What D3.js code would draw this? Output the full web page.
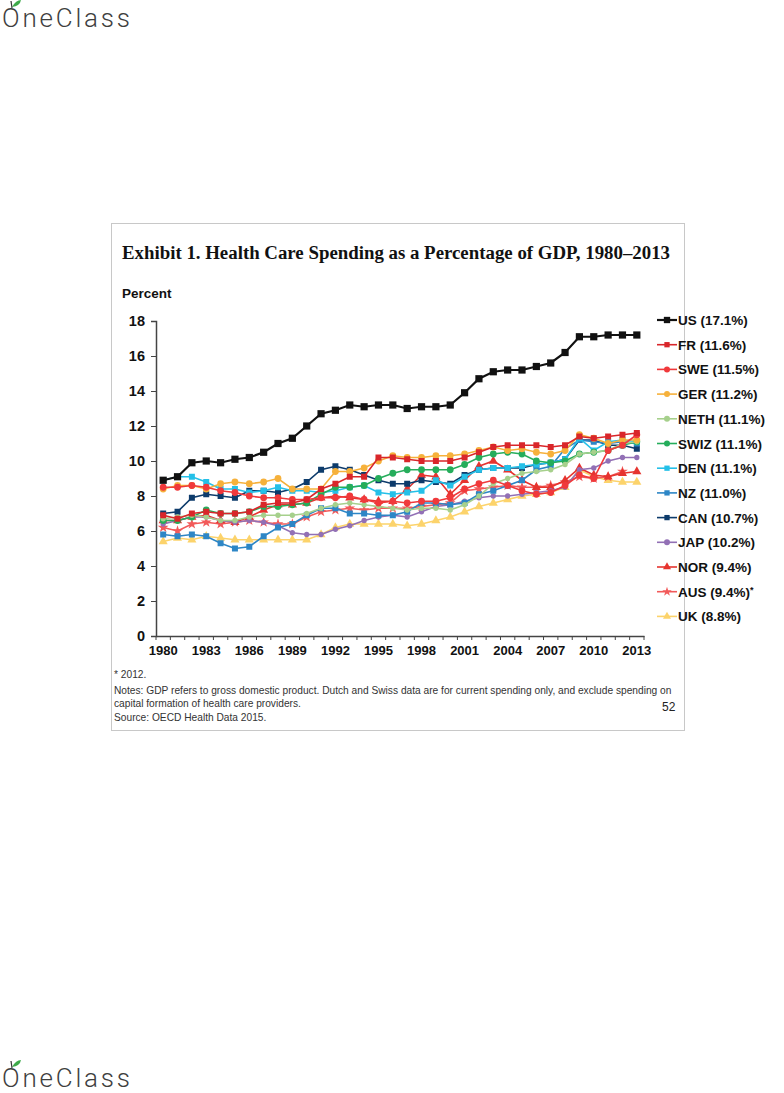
<!doctype html>
<html lang="en">
<head>
<meta charset="utf-8">
<title>Health Care Spending as a Percentage of GDP</title>
<script src="https://cdn.jsdelivr.net/npm/d3@7"></script>
<style>
  body { margin: 0; background: #fff; }
  svg { display: block; }
</style>
</head>
<body>
<script>

// years on the category axis
var years = d3.range(1980, 2014);
var tickYears = [1980, 1983, 1986, 1989, 1992, 1995, 1998, 2001, 2004, 2007, 2010, 2013];
var yTicks = [0, 2, 4, 6, 8, 10, 12, 14, 16, 18];

var names = ["US", "FR", "SWE", "GER", "NETH", "SWIZ", "DEN", "NZ", "CAN", "JAP", "NOR", "AUS", "UK"];
var labels = ["US (17.1%)", "FR (11.6%)", "SWE (11.5%)", "GER (11.2%)", "NETH (11.1%)", "SWIZ (11.1%)",
              "DEN (11.1%)", "NZ (11.0%)", "CAN (10.7%)", "JAP (10.2%)", "NOR (9.4%)", "AUS (9.4%)", "UK (8.8%)"];

// percent of GDP, 1980..2013
var US   = [8.9,9.1,9.9,10.0,9.9,10.1,10.2,10.5,11.0,11.3,12.0,12.7,12.9,13.2,13.1,13.2,13.2,13.0,13.1,13.1,13.2,13.9,14.7,15.1,15.2,15.2,15.4,15.6,16.2,17.1,17.1,17.2,17.2,17.2];
var FR   = [6.9,6.7,7.0,7.1,7.0,7.0,7.1,7.5,7.6,7.6,7.8,8.4,8.7,9.1,9.1,10.2,10.2,10.1,10.0,10.0,10.0,10.2,10.5,10.8,10.9,10.9,10.9,10.8,10.9,11.4,11.3,11.4,11.5,11.6];
var SWE  = [8.5,8.5,8.6,8.5,8.3,8.2,8.0,7.9,7.9,7.8,7.8,7.9,7.9,8.0,7.8,7.6,7.7,7.6,7.7,7.7,7.9,8.4,8.7,8.9,8.6,8.3,8.1,8.2,8.6,9.2,9.0,10.6,10.9,11.5];
var GER  = [8.4,8.6,8.6,8.4,8.7,8.8,8.7,8.8,9.0,8.4,8.4,8.4,9.4,9.4,9.6,10.0,10.3,10.2,10.2,10.3,10.3,10.4,10.6,10.8,10.6,10.7,10.5,10.4,10.6,11.5,11.3,11.0,11.2,11.2];
var NETH = [6.7,6.8,6.9,6.8,6.6,6.6,6.8,6.9,6.9,6.9,7.0,7.3,7.5,7.6,7.5,7.4,7.3,7.2,7.3,7.3,7.2,7.5,8.0,8.7,9.0,9.3,9.4,9.5,9.8,10.4,10.5,10.6,11.0,11.1];
var SWIZ = [6.6,6.6,6.8,7.2,7.0,7.0,7.1,7.4,7.4,7.5,7.6,8.1,8.5,8.5,8.6,9.0,9.3,9.5,9.5,9.5,9.5,9.8,10.2,10.4,10.5,10.4,10.0,9.9,10.0,10.4,10.5,10.6,10.9,11.1];
var DEN  = [8.9,9.1,9.1,8.8,8.4,8.4,8.2,8.3,8.5,8.3,8.3,8.2,8.3,8.5,8.6,8.2,8.1,8.2,8.3,8.9,8.6,9.1,9.5,9.6,9.6,9.7,9.8,9.9,10.1,11.3,10.6,11.1,11.2,11.1];
var NZ   = [5.8,5.7,5.8,5.7,5.3,5.0,5.1,5.7,6.2,6.4,6.9,7.3,7.3,7.0,7.0,6.9,6.9,7.1,7.6,7.6,7.5,7.6,8.1,8.3,8.6,8.9,9.5,9.7,10.7,11.2,11.1,11.0,11.1,11.0];
var CAN  = [7.0,7.1,7.9,8.1,8.0,7.9,8.3,8.3,8.2,8.4,8.8,9.5,9.7,9.5,9.2,8.9,8.7,8.7,8.9,8.8,8.7,9.2,9.5,9.6,9.6,9.6,9.8,9.9,10.1,11.2,11.2,10.9,10.9,10.7];
var JAP  = [6.4,6.6,6.8,6.8,6.6,6.5,6.6,6.5,6.3,5.9,5.8,5.8,6.1,6.3,6.6,6.8,6.9,6.8,7.1,7.4,7.5,7.7,7.9,8.0,8.0,8.1,8.2,8.3,8.5,9.5,9.6,10.0,10.2,10.2];
var NOR  = [6.6,6.6,6.8,6.9,6.6,6.5,6.8,7.2,7.5,7.5,7.6,7.9,8.0,7.9,7.8,7.7,7.7,8.4,9.2,9.1,8.1,8.9,9.7,10.0,9.5,8.9,8.5,8.5,8.9,9.6,9.2,9.1,9.3,9.4];
var AUS  = [6.2,6.0,6.4,6.5,6.4,6.5,6.6,6.5,6.4,6.4,6.8,7.1,7.2,7.3,7.2,7.3,7.3,7.3,7.4,7.5,7.6,8.3,8.4,8.5,8.6,8.5,8.5,8.6,8.8,9.1,9.0,9.1,9.4,null];
var UK   = [5.4,5.6,5.5,5.7,5.6,5.5,5.5,5.5,5.5,5.5,5.5,5.8,6.2,6.4,6.4,6.4,6.4,6.3,6.4,6.6,6.8,7.1,7.4,7.6,7.8,8.0,8.1,8.2,8.5,9.5,9.1,8.9,8.8,8.8];

var values = [US, FR, SWE, GER, NETH, SWIZ, DEN, NZ, CAN, JAP, NOR, AUS, UK];
var colors = ["#111111", "#d9262a", "#f0393b", "#f6b13b", "#a6d08c", "#25ad5b", "#25c0e8",
              "#2d86c6", "#0d3b6b", "#9270b5", "#e6342f", "#f25a5a", "#fcd36b"];
var shapes = [d3.symbolSquare, d3.symbolSquare, d3.symbolCircle, d3.symbolCircle, d3.symbolCircle, d3.symbolCircle,
              d3.symbolSquare, d3.symbolSquare, d3.symbolSquare, d3.symbolCircle, d3.symbolTriangle, d3.symbolStar, d3.symbolTriangle];

var W = 784, H = 1093;
var svg = d3.select("body").append("svg").attr("width", W).attr("height", H);

// OneClass marks, top and bottom
function logo(y) {
    var g = svg.append("g");
    g.append("text").attr("x", 2).attr("y", y).attr("font-family", "Roboto, sans-serif")
        .attr("font-weight", 300).attr("font-size", 26).attr("fill", "#3f3f3f")
        .attr("textLength", 128).text("OneClass");
    g.append("path").attr("d", "M12," + (y - 20) + " q4,-7 9,-7 q-1,6 -9,7 z").attr("fill", "#3daa4a");
    g.append("line").attr("x1", 11).attr("x2", 12).attr("y1", y - 26).attr("y2", y - 19)
        .attr("stroke", "#333").attr("stroke-width", 1.2);
}
logo(27);
logo(1087);

// slide frame
svg.append("rect").attr("x", 111.5).attr("y", 223.5).attr("width", 573).attr("height", 507)
    .attr("fill", "#fff").attr("stroke", "#c8c8c8");

svg.append("text").attr("x", 122).attr("y", 259)
    .attr("font-family", "'Liberation Serif', 'DejaVu Serif', serif").attr("font-weight", "bold")
    .attr("font-size", 18.5).attr("fill", "#111")
    .attr("textLength", 548).attr("lengthAdjust", "spacingAndGlyphs")
    .text("Exhibit 1. Health Care Spending as a Percentage of GDP, 1980\u20132013");

svg.append("text").attr("x", 122).attr("y", 298)
    .attr("font-family", "Liberation Sans, Arial, sans-serif").attr("font-weight", "bold")
    .attr("font-size", 13.5).attr("fill", "#111").text("Percent");

var x = d3.scaleBand().domain(years).range([156, 644]);
var y = d3.scaleLinear().domain([0, 18]).range([636, 321]);
var cx = function(yr) { return x(yr) + x.bandwidth() / 2; };

var yAxis = svg.append("g").attr("transform", "translate(156,0)")
    .call(d3.axisLeft(y).tickValues(yTicks).tickSize(5).tickPadding(6));
var xAxis = svg.append("g").attr("transform", "translate(0,636)")
    .call(d3.axisBottom(x).tickValues(tickYears).tickSize(0).tickPadding(10));

// small ticks between categories
svg.append("g").selectAll("line").data(d3.range(years.length + 1)).join("line")
    .attr("x1", function(i) { return 156 + i * x.step(); })
    .attr("x2", function(i) { return 156 + i * x.step(); })
    .attr("y1", 636).attr("y2", 640).attr("stroke", "#444").attr("stroke-width", 1);

[yAxis, xAxis].forEach(function(a) {
    a.selectAll("path.domain").attr("stroke", "#444").attr("stroke-width", 1.5);
    a.selectAll(".tick line").attr("stroke", "#444");
    a.selectAll("text").attr("font-family", "Liberation Sans, Arial, sans-serif")
        .attr("font-weight", "bold").attr("fill", "#111");
});
yAxis.selectAll("text").attr("font-size", 14.5);
xAxis.selectAll("text").attr("font-size", 13);

var line = d3.line()
    .defined(function(d) { return d != null; })
    .x(function(d, i) { return cx(years[i]); })
    .y(function(d) { return y(d); });

// draw last series first so US ends on top
for (var s = values.length - 1; s >= 0; s--) {
    var g = svg.append("g");
    var isUS = s === 0;
    g.append("path").datum(values[s]).attr("d", line).attr("fill", "none")
        .attr("stroke", colors[s]).attr("stroke-width", isUS ? 2.2 : 1.6);
    g.selectAll("path.m").data(values[s].map(function(v, i) { return { v: v, yr: years[i] }; })
            .filter(function(d) { return d.v != null; }))
        .join("path").attr("class", "m")
        .attr("transform", function(d) { return "translate(" + cx(d.yr) + "," + y(d.v) + ")"; })
        .attr("d", d3.symbol().type(shapes[s]).size(isUS ? 52 : (s === 4 || s === 9 ? 22 : 36)))
        .attr("fill", colors[s]);
}

// legend
var leg = svg.append("g").selectAll("g").data(names).join("g")
    .attr("transform", function(d, i) { return "translate(657," + (320 + i * 24.7) + ")"; });
leg.append("line").attr("x1", 0).attr("x2", 20).attr("y1", 0).attr("y2", 0)
    .attr("stroke", function(d, i) { return colors[i]; }).attr("stroke-width", function(d, i) { return i ? 1.6 : 2.2; });
leg.append("path").attr("transform", "translate(10,0)")
    .attr("d", function(d, i) { return d3.symbol().type(shapes[i]).size(i ? 28 : 40)(); })
    .attr("fill", function(d, i) { return colors[i]; });
leg.append("text").attr("x", 21).attr("y", 5)
    .attr("font-family", "Liberation Sans, Arial, sans-serif").attr("font-weight", "bold")
    .attr("font-size", 13.5).attr("fill", "#111")
    .text(function(d, i) { return labels[i]; })
    .filter(function(d) { return d === "AUS"; })
    .append("tspan").attr("font-size", 9).attr("dy", -4).text("*");

// notes
var notes = ["* 2012.",
    "Notes: GDP refers to gross domestic product. Dutch and Swiss data are for current spending only, and exclude spending on",
    "capital formation of health care providers.",
    "Source: OECD Health Data 2015."];
svg.append("g").selectAll("text").data(notes).join("text")
    .attr("x", 114).attr("y", function(d, i) { return 678 + i * 13.5 + (i ? 2 : 0); })
    .attr("font-family", "Liberation Sans, Arial, sans-serif").attr("font-size", 10.2)
    .attr("fill", "#333").text(function(d) { return d; });
svg.append("text").attr("x", 662).attr("y", 711)
    .attr("font-family", "Liberation Sans, Arial, sans-serif").attr("font-size", 12)
    .attr("fill", "#222").text("52");

</script>
</body>
</html>
